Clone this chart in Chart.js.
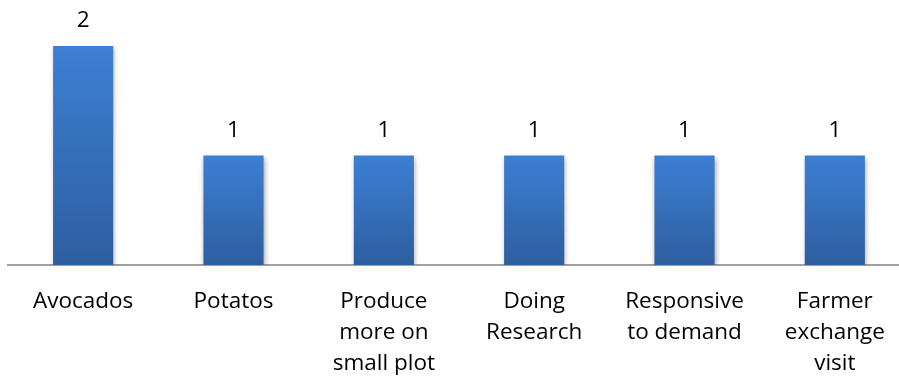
<!DOCTYPE html>
<html>
<head>
<meta charset="utf-8">
<script src="https://cdn.jsdelivr.net/npm/chart.js@4.4.1/dist/chart.umd.min.js"></script>
<style>
  html, body { margin: 0; padding: 0; background: #fff; overflow: hidden; }
  #wrap { width: 912px; height: 382px; }
</style>
</head>
<body>
<div id="wrap"><canvas id="c"></canvas></div>
<script>
// Categories and counts
const categories = [
  "Avocados",
  "Potatos",
  ["Produce", "more on", "small plot"],
  ["Doing", "Research"],
  ["Responsive", "to demand"],
  ["Farmer", "exchange", "visit"]
];
const counts = [2, 1, 1, 1, 1, 1];

const FONT = "'Open Sans', Lato, sans-serif";
const FONT_SIZE = 22.5;

// Vertical blue gradient, running from the top of each bar to its base
function barGradient(ctx) {
  const chart = ctx.chart;
  if (!chart.chartArea || ctx.type !== 'data') return '#3670BD';
  const y = chart.scales.y;
  const top = y.getPixelForValue(ctx.raw);
  const base = y.getPixelForValue(0);
  const g = chart.ctx.createLinearGradient(0, top, 0, base);
  g.addColorStop(0, '#3D7FD4');
  g.addColorStop(1, '#2D5E9F');
  return g;
}

// Value labels above each bar
const valueLabels = {
  id: 'valueLabels',
  afterDatasetsDraw(chart) {
    const c = chart.ctx;
    const meta = chart.getDatasetMeta(0);
    c.save();
    c.font = FONT_SIZE + 'px ' + FONT;
    c.fillStyle = '#000';
    c.textAlign = 'center';
    c.textBaseline = 'middle';
    meta.data.forEach((bar, i) => {
      c.fillText(String(counts[i]), bar.x, bar.y - 25);
    });
    c.restore();
  }
};

// Soft shadow behind the bars
const barShadow = {
  id: 'barShadow',
  beforeDatasetsDraw(chart) {
    const c = chart.ctx;
    c.save();
    c.shadowColor = 'rgba(0,0,0,0.35)';
    c.shadowBlur = 5;
    c.shadowOffsetX = 1;
    c.shadowOffsetY = 2;
  },
  afterDatasetsDraw(chart) {
    chart.ctx.restore();
  }
};

new Chart(document.getElementById('c'), {
  type: 'bar',
  data: {
    labels: categories,
    datasets: [{
      data: counts,
      backgroundColor: barGradient,
      borderWidth: 0,
      barPercentage: 0.4,
      categoryPercentage: 1.0
    }]
  },
  options: {
    responsive: true,
    maintainAspectRatio: false,
    animation: false,
    layout: { padding: { top: 46, left: 8, right: 2, bottom: 0 } },
    plugins: {
      legend: { display: false },
      tooltip: { enabled: false }
    },
    scales: {
      x: {
        grid: { display: false, drawTicks: false },
        border: { display: true, color: '#A0A0A0', width: 2 },
        ticks: {
          color: '#000',
          font: { family: FONT, size: FONT_SIZE, lineHeight: '31px' },
          padding: 21,
          maxRotation: 0,
          autoSkip: false
        },
        afterFit(scale) { scale.height = 117; }
      },
      y: {
        display: false,
        min: 0,
        max: 2
      }
    }
  },
  plugins: [barShadow, valueLabels]
});
</script>
</body>
</html>
